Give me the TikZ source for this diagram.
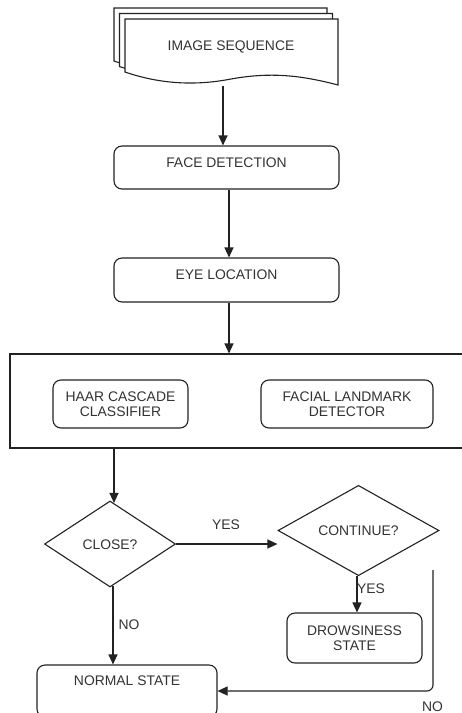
\documentclass[tikz,border=0pt]{standalone}
\usepackage{fontspec}
\setmainfont{Liberation Sans}
\usetikzlibrary{shapes.geometric,arrows.meta}
\definecolor{txt}{HTML}{333333}
\definecolor{ln}{HTML}{222222}
\begin{document}
\begin{tikzpicture}[x=1pt,y=-1pt,
  lbl/.style={text=txt,font=\fontsize{13.9}{15.5}\selectfont,inner sep=0pt,text height=10pt,text depth=0pt},
  box/.style={draw=ln,line width=1.1pt,rounded corners=8pt,fill=white,text=txt,
    font=\fontsize{13.9}{15.5}\selectfont,align=center,inner sep=0pt},
  onel/.style={text height=10pt,text depth=#1},
  dec/.style={diamond,draw=ln,line width=1.1pt,fill=white,text=txt,
    font=\fontsize{13.9}{15.5}\selectfont,inner sep=0pt,text height=10pt,text depth=0pt},
  arr/.style={draw=ln,line width=1.1pt,-{Triangle[length=10pt,width=9pt]}},
  ln/.style={draw=ln,line width=1.1pt}]
\useasboundingbox (0,0) rectangle (462,713);
% document stack
\foreach \d in {11,5.5,0}{
  \draw[ln,fill=white,shift={(-\d,-\d)}] (125,19) -- (338,19) -- (338,85)
    .. controls (300,75) and (270,72) .. (231,79)
    .. controls (195,86) and (160,84) .. (125,72) -- cycle;
}
\node[lbl] (img) at (231,45) {IMAGE SEQUENCE};
\coordinate (imgb) at (223,86);
% boxes
\node[box,minimum width=225,minimum height=43,onel=11pt] (face) at (226.5,167.5) {FACE DETECTION};
\node[box,minimum width=225,minimum height=44,onel=12pt] (eye) at (226.5,280) {EYE LOCATION};
\node[draw=ln,line width=1.1pt,minimum width=460,minimum height=94,inner sep=0pt] (grp) at (240,401) {};
\node[box,minimum width=135,minimum height=48] (haar) at (120.5,404) {HAAR CASCADE\\CLASSIFIER};
\node[box,minimum width=172,minimum height=48] (flm) at (347,404) {FACIAL LANDMARK\\DETECTOR};
\node[dec,minimum width=131,minimum height=86] (close) at (110,544) {CLOSE?};
\node[dec,minimum width=161,minimum height=77] (cont) at (358.5,530.5) {CONTINUE?};
\node[box,minimum width=135,minimum height=50] (drow) at (354.5,638) {DROWSINESS\\STATE};
\node[box,minimum width=180,minimum height=52,onel=22pt] (normal) at (127,691) {NORMAL STATE};
\coordinate (nstart) at (433,570);
% connectors
\draw[arr] (imgb) -- (imgb |- face.north);
\draw[arr] ([xshift=2.5]face.south) -- ([xshift=2.5]eye.north);
\draw[arr] ([xshift=2.5]eye.south) -- ([xshift=2.5]eye.south |- grp.north);
\draw[arr] ([xshift=4]close.north |- grp.south) -- ([xshift=4,yshift=-2.5]close.north);
\draw[arr] (close.east) -- (close.east -| cont.west) coordinate[pos=0.5] (m1);
\draw[arr] ([xshift=3,yshift=2]close.south) -- ([xshift=3]close.south |- normal.north);
\draw[arr] ([xshift=-1.5]cont.south) -- ([xshift=-1.5]cont.south |- drow.north);
\draw[arr,rounded corners=6pt] (nstart) |- (normal.east);
% labels
\node[lbl] (yes1) at (226,524) {YES};
\node[lbl] (no1) at (129,624) {NO};
\node[lbl] (yes2) at (371,588) {YES};
\node[lbl] (no2) at (432.5,706) {NO};
\end{tikzpicture}
\end{document}
